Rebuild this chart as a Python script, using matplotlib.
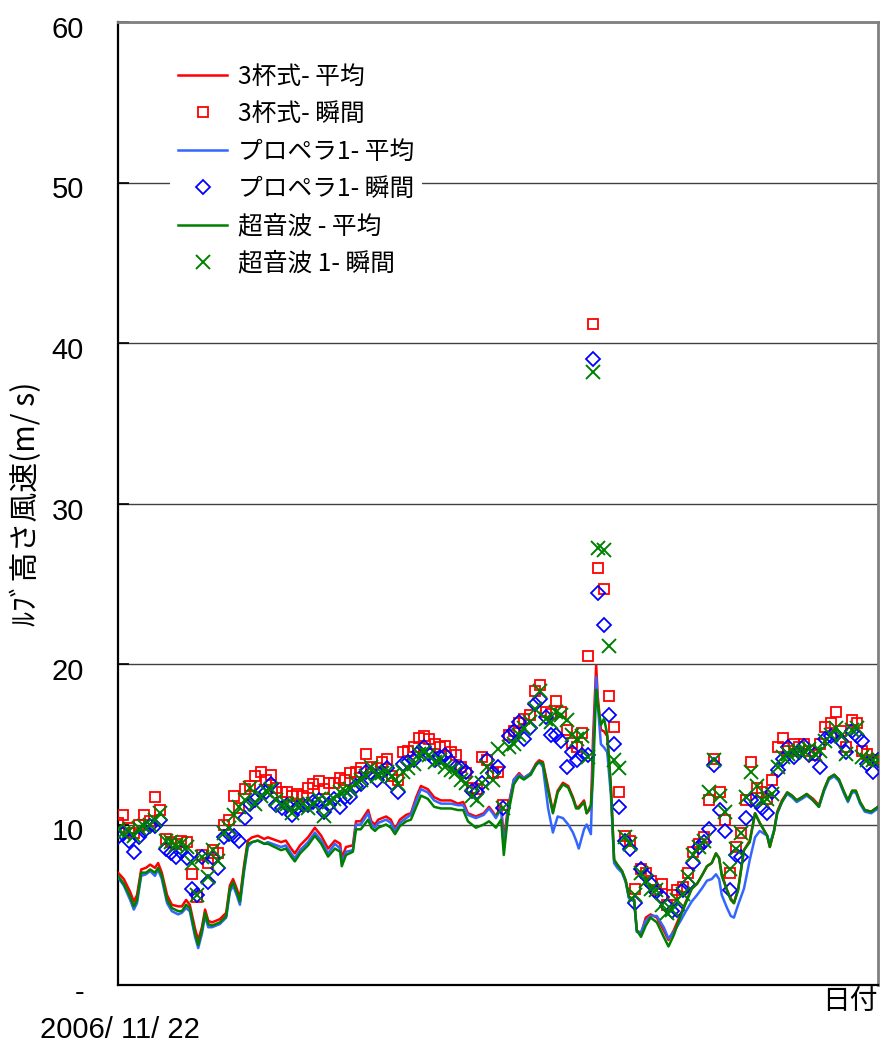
import matplotlib
matplotlib.use("Agg")
import matplotlib.pyplot as plt
from matplotlib.transforms import ScaledTranslation

plt.rcParams['font.family'] = ['Liberation Sans', 'Noto Sans CJK JP', 'DejaVu Sans']

# 10-min mean wind speed (m/s), hours since 2006/11/22 00:00
t_mean = [0.0, 1.1, 2.3, 3.0, 3.6, 4.4, 5.3, 6.1, 7.0, 7.6, 8.3, 9.3, 10.2, 11.4, 12.1, 12.9,
          13.6, 14.6, 15.2, 15.9, 16.5, 17.1, 17.8, 19.3, 20.5, 21.2, 21.8, 22.5, 23.1, 23.9,
          24.6, 25.4, 26.5, 27.7, 28.4, 30.9, 31.8, 32.8, 33.5, 34.5, 36.0, 37.3, 38.5, 39.8,
          41.1, 42.1, 42.4, 43.2, 44.5, 45.1, 46.0, 47.4, 48.0, 48.7, 49.3, 50.8, 51.7, 52.5,
          53.4, 54.6, 55.5, 56.5, 57.4, 58.7, 59.9, 61.2, 63.1, 64.4, 65.4, 66.3, 67.8, 69.3,
          70.3, 71.0, 71.6, 72.6, 73.1, 73.9, 75.0, 76.0, 76.9, 78.2, 79.2, 79.8, 80.5, 81.5,
          82.4, 83.3, 84.3, 85.3, 86.2, 86.8, 87.3, 88.3, 88.8, 89.6, 90.0, 90.6, 90.9, 91.5,
          92.1, 92.7, 93.4, 94.0, 94.6, 95.5, 96.2, 96.8, 97.8, 98.3, 99.1, 100.0, 100.9, 102.1,
          103.4, 104.3, 105.3, 106.6, 107.6, 108.7, 109.7, 110.6, 111.6, 112.5, 113.3, 113.9,
          114.4, 115.4, 116.1, 116.7, 117.5, 118.6, 119.7, 120.7, 121.6, 123.0, 123.5, 124.3,
          124.9, 125.8, 126.8, 127.7, 128.6, 129.6, 130.5, 131.7, 132.8, 133.8, 134.7, 135.7,
          136.6, 137.6, 138.3, 139.1, 139.8, 140.6, 141.5, 142.7, 144.0]

cup_mean = [7.0, 6.6, 5.8, 5.2, 5.6, 7.2, 7.3, 7.5, 7.3, 7.6, 7.0, 5.6, 5.0, 4.9, 4.9, 5.3,
            5.0, 3.5, 2.8, 3.6, 4.7, 4.0, 3.9, 4.1, 4.5, 6.2, 6.6, 6.0, 5.4, 7.5,
            9.0, 9.2, 9.3, 9.1, 9.2, 8.9, 9.0, 8.5, 8.2, 8.7, 9.2, 9.8, 9.3, 8.5,
            9.0, 8.8, 7.9, 8.6, 8.7, 10.2, 10.2, 10.9, 10.2, 10.0, 10.3, 10.5, 10.3, 9.7,
            10.3, 10.6, 10.7, 11.7, 12.4, 12.2, 11.7, 11.5, 11.5, 11.3, 11.4, 10.7, 10.5, 10.7,
            11.1, 10.8, 10.5, 11.2, 9.0, 11.1, 12.8, 13.2, 12.9, 13.2, 13.8, 14.0, 13.9, 12.3,
            10.8, 12.1, 12.6, 12.4, 11.7, 11.1, 11.1, 11.5, 10.7, 11.0, 15.3, 19.9, 18.0, 15.9,
            15.8, 15.5, 12.3, 7.8, 7.5, 7.1, 6.5, 5.5, 5.3, 3.4, 3.2, 4.2, 4.4, 4.2,
            3.4, 2.8, 3.4, 4.4, 5.2, 6.0, 6.3, 6.8, 7.4, 7.6, 8.2, 7.9,
            6.9, 5.9, 5.4, 5.1, 6.0, 8.4, 9.0, 10.7, 10.1, 9.3, 8.6, 9.6,
            10.8, 11.5, 12.0, 11.8, 11.5, 11.7, 11.9, 11.6, 11.2, 12.2, 12.9, 13.1,
            12.8, 12.0, 11.5, 12.1, 12.1, 11.4, 10.9, 10.8, 11.1]

prop_mean = [6.7, 6.2, 5.3, 4.7, 5.1, 6.8, 6.9, 7.1, 6.8, 7.2, 6.6, 5.1, 4.6, 4.4, 4.5, 4.8,
             4.6, 3.0, 2.3, 3.2, 4.3, 3.6, 3.6, 3.8, 4.2, 5.8, 6.2, 5.6, 5.0, 7.1,
             8.6, 8.9, 9.0, 8.8, 8.9, 8.6, 8.7, 8.2, 7.9, 8.4, 8.9, 9.5, 9.0, 8.2,
             8.8, 8.5, 7.6, 8.3, 8.4, 10.0, 10.0, 10.7, 10.0, 9.8, 10.1, 10.3, 10.1, 9.6,
             10.1, 10.4, 10.6, 11.5, 12.2, 12.0, 11.5, 11.3, 11.3, 11.2, 11.2, 10.6, 10.4, 10.6,
             11.0, 10.7, 10.4, 11.0, 8.5, 10.9, 12.8, 13.1, 12.9, 13.2, 13.7, 13.9, 13.6, 11.0,
             9.5, 10.5, 10.4, 10.0, 9.5, 9.0, 8.5, 9.7, 10.0, 9.4, 14.0, 19.2, 17.5, 15.0,
             14.8, 14.5, 11.8, 7.6, 7.3, 7.0, 6.4, 5.4, 5.2, 3.3, 3.3, 4.0, 4.3, 4.3,
             3.6, 2.9, 3.3, 4.0, 4.6, 5.2, 5.6, 6.0, 6.5, 6.6, 6.9, 6.6,
             5.6, 4.8, 4.3, 4.2, 5.0, 6.0, 7.8, 9.2, 9.6, 9.3, 8.8, 9.6,
             10.7, 11.4, 11.9, 11.7, 11.4, 11.6, 11.8, 11.5, 11.1, 12.1, 12.8, 13.0,
             12.7, 11.9, 11.4, 12.0, 12.0, 11.3, 10.8, 10.7, 11.0]

sonic_mean = [6.8, 6.3, 5.5, 4.9, 5.3, 7.0, 7.0, 7.2, 7.0, 7.3, 6.8, 5.3, 4.8, 4.6, 4.6, 5.0,
              4.8, 3.2, 2.5, 3.4, 4.5, 3.8, 3.7, 3.9, 4.3, 6.0, 6.4, 5.8, 5.2, 7.3,
              8.8, 8.9, 9.0, 8.8, 8.8, 8.4, 8.5, 8.0, 7.7, 8.2, 8.7, 9.3, 8.8, 8.0,
              8.5, 8.3, 7.4, 8.1, 8.3, 9.7, 9.7, 10.3, 9.8, 9.6, 9.8, 10.0, 9.8, 9.4,
              9.9, 10.2, 10.3, 11.1, 11.8, 11.6, 11.1, 11.0, 11.0, 10.9, 10.9, 10.2, 9.8, 10.0,
              10.2, 10.0, 9.8, 10.3, 8.1, 10.6, 12.5, 13.0, 12.8, 13.1, 13.7, 13.9, 13.8, 12.1,
              10.7, 12.0, 12.5, 12.3, 11.6, 11.0, 11.0, 11.4, 10.7, 11.2, 13.0, 18.4, 17.5, 16.2,
              16.6, 15.6, 12.3, 7.8, 7.5, 7.1, 6.5, 5.5, 5.3, 3.4, 3.0, 3.7, 4.2, 3.9,
              3.0, 2.4, 3.1, 4.3, 5.1, 6.0, 6.3, 6.8, 7.4, 7.6, 8.2, 7.9,
              6.8, 5.9, 5.3, 5.1, 5.9, 8.4, 8.9, 10.7, 10.1, 9.3, 8.6, 9.6,
              10.7, 11.4, 12.0, 11.8, 11.5, 11.7, 11.9, 11.5, 11.1, 12.2, 12.9, 13.1,
              12.8, 12.0, 11.5, 12.1, 12.1, 11.4, 10.9, 10.8, 11.1]

# hourly peak gust (m/s)
t_gust = list(range(145))

cup_gust = [10.1, 10.6, 9.8, 9.5, 10.0, 10.6, 10.2, 11.7, 10.9, 9.1, 8.9, 8.8, 9.0, 8.9, 6.9, 5.5,
            8.1, 7.6, 8.4, 8.2, 10.0, 10.3, 11.8, 11.0, 12.2, 12.4, 13.0, 13.3, 12.8, 13.1,
            12.3, 12.0, 12.0, 11.8, 11.9, 11.8, 12.3, 12.5, 12.7, 12.2, 12.6, 12.6, 12.9, 12.8,
            13.2, 13.3, 13.5, 14.4, 13.6, 13.5, 13.9, 14.1, 13.0, 12.8, 14.5, 14.6, 14.8, 15.4,
            15.5, 15.3, 15.0, 14.8, 14.9, 14.5, 14.3, 13.6, 13.2, 12.3, 12.2, 14.2, 14.0, 13.2,
            13.3, 11.2, 15.6, 15.8, 16.3, 16.6, 16.8, 18.3, 18.7, 17.0, 16.9, 17.7, 17.0, 15.9,
            15.1, 14.8, 15.7, 20.5, 41.2, 26.0, 24.7, 18.0, 16.1, 12.0, 9.3, 9.0, 6.0, 7.2,
            7.0, 6.5, 5.9, 6.3, 5.0, 5.6, 5.9, 6.1, 7.0, 8.3, 8.8, 9.2, 11.5, 14.1,
            12.0, 10.3, 7.0, 8.6, 9.5, 11.5, 13.9, 12.3, 12.0, 11.6, 12.8, 14.8, 15.4, 14.6,
            15.0, 14.8, 15.0, 14.6, 14.3, 15.0, 16.1, 16.3, 17.0, 15.8, 14.8, 16.5, 16.3, 14.6,
            14.4, 14.0, 14.0]

prop_gust = [9.2, 9.4, 9.0, 8.3, 9.2, 9.6, 9.9, 9.9, 10.3, 8.5, 8.2, 8.0, 8.3, 7.9, 6.0, 5.6,
             8.0, 6.4, 7.9, 7.3, 9.2, 9.4, 9.3, 9.0, 10.4, 11.3, 11.5, 12.0, 12.0, 12.5,
             11.2, 11.0, 11.2, 10.6, 11.0, 11.2, 11.2, 11.4, 11.5, 10.8, 11.2, 11.6, 11.1, 11.7,
             11.7, 12.4, 12.5, 13.3, 13.2, 12.8, 13.3, 13.5, 12.6, 12.0, 13.8, 13.9, 14.0, 14.5,
             14.8, 14.4, 14.0, 14.2, 14.3, 13.9, 13.6, 13.5, 13.3, 12.1, 12.0, 12.6, 14.0, 13.2,
             13.6, 11.0, 15.5, 15.8, 16.4, 15.3, 16.0, 17.5, 17.8, 16.7, 15.6, 15.6, 15.2, 13.6,
             14.5, 14.0, 14.3, 14.3, 39.0, 24.4, 22.4, 16.8, 15.0, 11.1, 9.0, 8.5, 5.1, 7.2,
             6.8, 6.3, 5.8, 5.5, 4.9, 4.6, 4.7, 5.9, 6.3, 7.6, 8.6, 8.9, 9.7, 13.7,
             10.9, 9.6, 5.9, 8.1, 8.0, 10.4, 11.5, 11.4, 11.0, 10.7, 12.0, 13.4, 14.1, 14.8,
             14.2, 14.5, 14.9, 14.3, 14.4, 13.6, 15.3, 15.5, 15.6, 15.2, 14.5, 15.8, 15.5, 15.2,
             13.8, 13.3, 14.0]

sonic_gust = [9.7, 9.5, 9.6, 9.3, 9.8, 9.9, 10.0, 10.3, 10.7, 9.0, 8.9, 8.7, 8.8, 8.6, 7.6, 5.6,
              8.0, 6.7, 8.4, 7.7, 9.5, 9.8, 10.6, 11.1, 11.5, 12.3, 11.3, 11.8, 12.1, 12.2,
              11.5, 11.2, 11.3, 10.7, 11.3, 11.3, 11.0, 11.3, 11.6, 10.5, 11.4, 11.6, 12.0, 12.1,
              12.2, 12.6, 12.8, 13.0, 13.6, 13.0, 13.2, 13.3, 13.0, 12.5, 13.3, 13.5, 13.8, 14.4,
              14.5, 14.3, 13.9, 14.0, 13.6, 13.4, 13.3, 12.8, 12.6, 11.8, 11.5, 12.6, 13.6, 12.8,
              14.7, 11.0, 14.8, 15.0, 15.6, 16.0, 16.4, 17.2, 18.3, 16.6, 16.4, 17.0, 16.8, 16.5,
              15.6, 15.3, 15.5, 14.2, 38.2, 27.2, 27.1, 21.1, 14.0, 13.5, 9.2, 8.8, 5.6, 7.0,
              6.5, 6.0, 5.9, 5.0, 4.5, 4.7, 5.3, 5.7, 6.7, 8.1, 8.6, 9.0, 12.0, 14.0,
              11.8, 10.8, 7.2, 8.5, 9.5, 11.7, 13.3, 12.4, 11.5, 11.6, 11.9, 13.6, 14.2, 14.4,
              14.5, 14.6, 14.6, 14.7, 14.4, 14.6, 15.2, 15.6, 16.0, 15.5, 14.4, 15.9, 16.0, 14.2,
              14.0, 14.0, 14.0]

labels = ['3杯式- 平均', '3杯式- 瞬間', 'プロペラ1- 平均', 'プロペラ1- 瞬間', '超音波 - 平均', '超音波 1- 瞬間']

fig = plt.figure(figsize=(8.86, 10.46), dpi=100)
ax = fig.add_axes([118 / 886, 1 - 985 / 1046, 760 / 886, 963 / 1046])

lw = 1.8
ax.plot(t_mean, cup_mean, color='#FF0000', lw=lw, label=labels[0], zorder=3)
ax.plot(t_gust, cup_gust, ls='none', marker='s', ms=7.5, mfc='none', mec='#FF0000', mew=1.3,
        label=labels[1], zorder=4)
ax.plot(t_mean, prop_mean, color='#3366FF', lw=lw, label=labels[2], zorder=5)
ax.plot(t_gust, prop_gust, ls='none', marker='D', ms=6.8, mfc='none', mec='#0000FF', mew=1.3,
        label=labels[3], zorder=6)
ax.plot(t_mean, sonic_mean, color='#008000', lw=lw, label=labels[4], zorder=7)
ax.plot(t_gust, sonic_gust, ls='none', marker='x', ms=9.5, mec='#008000', mew=1.4,
        label=labels[5], zorder=8)

ax.set_xlim(0, 144)
ax.set_ylim(0, 60)
ax.set_yticks([0, 10, 20, 30, 40, 50, 60])
ax.set_yticklabels(['-', '10', '20', '30', '40', '50', '60'], fontsize=21)
ax.set_xticks([])
ax.tick_params(axis='y', direction='in', length=8, width=1.2, pad=24.5)
# tick labels sit a little below their gridlines
shift = ScaledTranslation(0, -5 / 100, fig.dpi_scale_trans)
for lab in ax.get_yticklabels():
    lab.set_transform(lab.get_transform() + shift)
ax.yaxis.grid(True, color='#404040', lw=1.0)
ax.set_axisbelow(True)

for side in ['left', 'bottom']:
    ax.spines[side].set_color('black')
    ax.spines[side].set_linewidth(1.6)
for side in ['top', 'right']:
    ax.spines[side].set_color('#808080')
    ax.spines[side].set_linewidth(2.0)

ax.set_ylabel('ﾙﾌﾞ高さ風速(m/ s)', fontsize=21.5, family=['Noto Sans CJK JP'])
ax.yaxis.set_label_coords(-0.100, 0.5)

fig.text(878 / 886, 1 - 986 / 1046, '日付', ha='right', va='top', fontsize=20,
         family=['Noto Sans CJK JP'])
fig.text(40 / 886, 1 - 1044 / 1046, '2006/ 11/ 22', ha='left', va='bottom', fontsize=21,
         family=['Liberation Sans Narrow', 'Liberation Sans'])

leg = ax.legend(loc='upper left', bbox_to_anchor=(40 / 760, (985 - 44) / 963),
                prop={'family': ['Noto Sans CJK JP'], 'size': 17.8},
                frameon=True, facecolor='white', edgecolor='none', framealpha=1,
                fancybox=False, handlelength=2.0, handletextpad=0.45, labelspacing=0.46,
                borderpad=0.3)
leg.set_zorder(10)

fig.savefig('out.png', dpi=100)
